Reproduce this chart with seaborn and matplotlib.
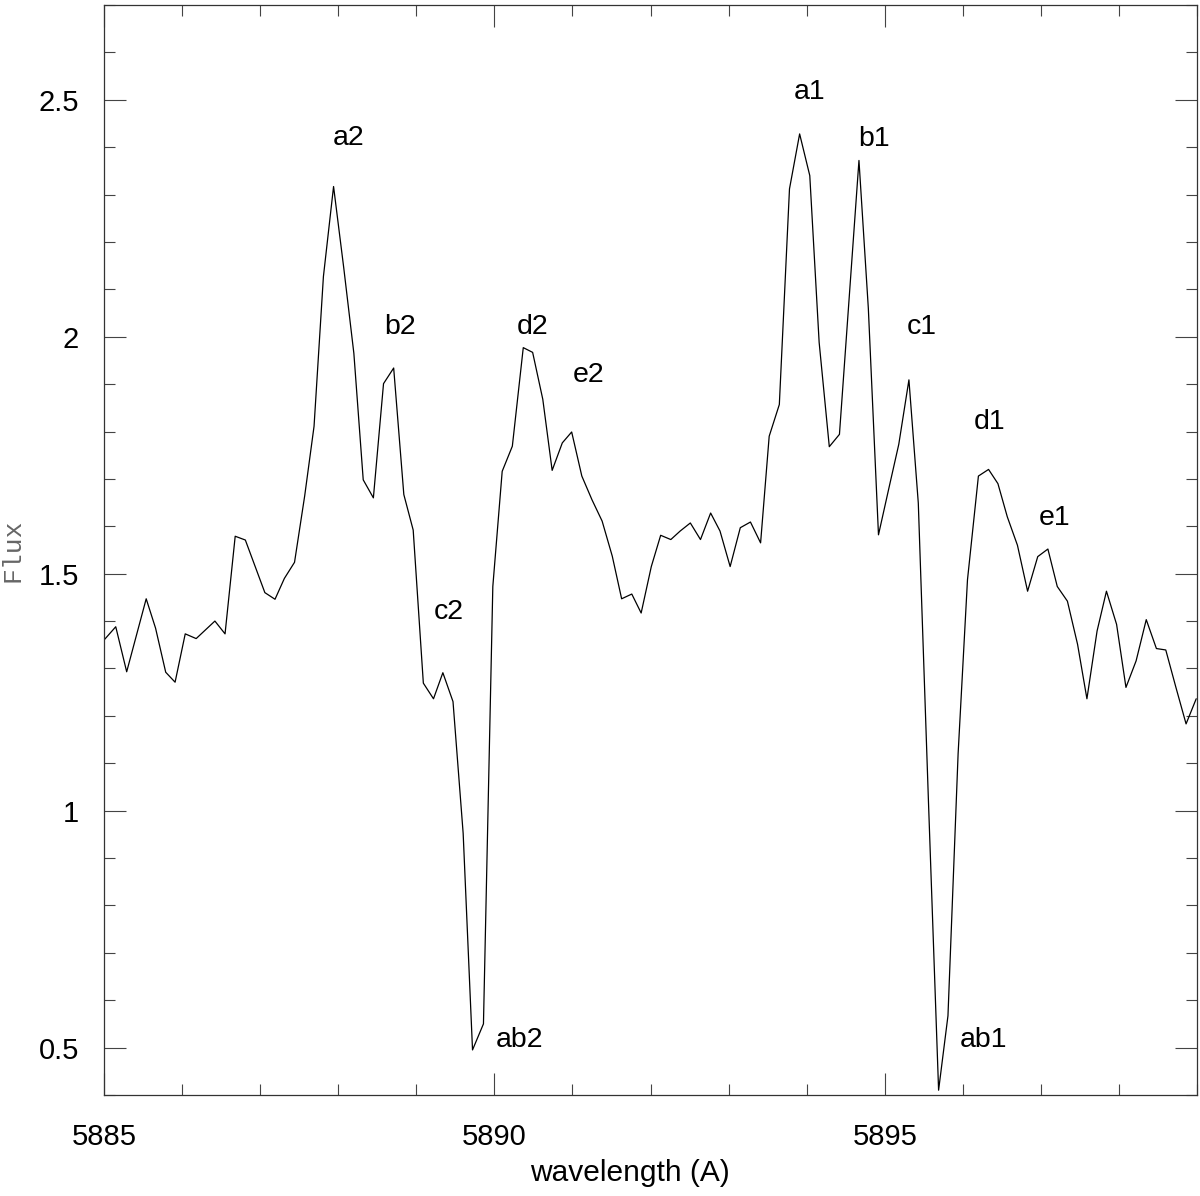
import numpy as np
import pandas as pd
import matplotlib
matplotlib.use("Agg")
import matplotlib.pyplot as plt
import seaborn as sns
from matplotlib.ticker import MultipleLocator

# spectrum (wavelength in A, flux)
wavelength = [5885.00, 5885.15, 5885.29, 5885.54, 5885.66, 5885.79, 5885.91, 5886.04,
              5886.18, 5886.42, 5886.55, 5886.68, 5886.81, 5887.06, 5887.19, 5887.31,
              5887.44, 5887.57, 5887.69, 5887.81, 5887.94, 5888.07, 5888.20, 5888.32,
              5888.45, 5888.58, 5888.71, 5888.84, 5888.96, 5889.09, 5889.22, 5889.34,
              5889.47, 5889.60, 5889.72, 5889.86, 5889.98, 5890.10, 5890.23, 5890.37,
              5890.49, 5890.62, 5890.74, 5890.87, 5890.99, 5891.12, 5891.25, 5891.38,
              5891.51, 5891.63, 5891.76, 5891.88, 5892.01, 5892.13, 5892.26, 5892.38,
              5892.51, 5892.64, 5892.77, 5892.89, 5893.02, 5893.15, 5893.28, 5893.41,
              5893.52, 5893.65, 5893.78, 5893.91, 5894.04, 5894.16, 5894.29, 5894.42,
              5894.67, 5894.79, 5894.92, 5895.05, 5895.18, 5895.31, 5895.43, 5895.56,
              5895.69, 5895.81, 5895.94, 5896.06, 5896.20, 5896.33, 5896.45, 5896.57,
              5896.70, 5896.83, 5896.96, 5897.09, 5897.21, 5897.34, 5897.47, 5897.59,
              5897.72, 5897.84, 5897.97, 5898.09, 5898.22, 5898.35, 5898.48, 5898.60,
              5898.73, 5898.86, 5898.99]
flux = [1.360, 1.388, 1.293, 1.447, 1.385, 1.292, 1.271, 1.373,
        1.363, 1.400, 1.373, 1.579, 1.571, 1.460, 1.446, 1.490,
        1.524, 1.664, 1.811, 2.127, 2.317, 2.146, 1.965, 1.698,
        1.660, 1.901, 1.934, 1.667, 1.592, 1.269, 1.236, 1.291,
        1.230, 0.952, 0.495, 0.550, 1.473, 1.716, 1.769, 1.977,
        1.967, 1.868, 1.718, 1.776, 1.799, 1.706, 1.656, 1.611,
        1.537, 1.447, 1.457, 1.417, 1.515, 1.581, 1.572, 1.590,
        1.607, 1.572, 1.628, 1.590, 1.515, 1.597, 1.609, 1.565,
        1.790, 1.857, 2.312, 2.428, 2.340, 1.988, 1.768, 1.794,
        2.372, 2.060, 1.582, 1.678, 1.773, 1.909, 1.649, 1.020,
        0.410, 0.567, 1.120, 1.487, 1.706, 1.720, 1.690, 1.620,
        1.560, 1.463, 1.536, 1.552, 1.473, 1.442, 1.351, 1.236,
        1.379, 1.463, 1.393, 1.260, 1.316, 1.403, 1.342, 1.339,
        1.260, 1.183, 1.236]

# component labels
label_text = ["a2", "b2", "c2", "ab2", "d2", "e2", "a1", "b1", "c1", "d1", "e1", "ab1"]
label_x = [5888.13, 5888.79, 5889.41, 5890.32, 5890.49, 5891.21,
           5894.04, 5894.86, 5895.47, 5896.34, 5897.17, 5896.27]
label_y = [2.42, 2.02, 1.42, 0.515, 2.02, 1.92,
           2.517, 2.418, 2.02, 1.82, 1.618, 0.515]

df = pd.DataFrame({"wavelength": wavelength, "flux": flux})

sns.set_style("ticks")
plt.rcParams["font.family"] = ["Liberation Sans", "DejaVu Sans"]

fig = plt.figure(figsize=(12, 11.96), dpi=100)
ax = fig.add_axes([0.0867, 0.0845, 0.9108, 0.9113])

sns.lineplot(data=df, x="wavelength", y="flux", estimator=None, sort=False,
             color="black", linewidth=0.9, ax=ax)

for t, x, y in zip(label_text, label_x, label_y):
    ax.text(x, y, t, ha="center", va="center", fontsize=20.5, color="black")

ax.set_xlim(5885, 5899)
ax.set_ylim(0.4, 2.7)
ax.xaxis.set_major_locator(MultipleLocator(5))
ax.xaxis.set_minor_locator(MultipleLocator(1))
ax.yaxis.set_major_locator(MultipleLocator(0.5))
ax.yaxis.set_minor_locator(MultipleLocator(0.1))
ax.yaxis.set_major_formatter(matplotlib.ticker.FuncFormatter(lambda v, p: f"{v:g}"))

ax.tick_params(which="both", direction="in", top=True, right=True,
               color="#444444", width=0.8, labelsize=21, labelcolor="black")
ax.tick_params(which="major", length=16, pad=18)
ax.tick_params(which="minor", length=8)
ax.tick_params(axis="x", which="major", pad=20)

for s in ax.spines.values():
    s.set_linewidth(0.9)
    s.set_color("#333333")

ax.set_xlabel("wavelength (A)", fontsize=21.5, labelpad=6, color="black")
ax.xaxis.label.set_x(0.481)
ax.set_ylabel("Flux", fontsize=19, color="#666666",
              family=["Liberation Mono", "DejaVu Sans Mono"], labelpad=10)

fig.savefig("out.png", dpi=100)
